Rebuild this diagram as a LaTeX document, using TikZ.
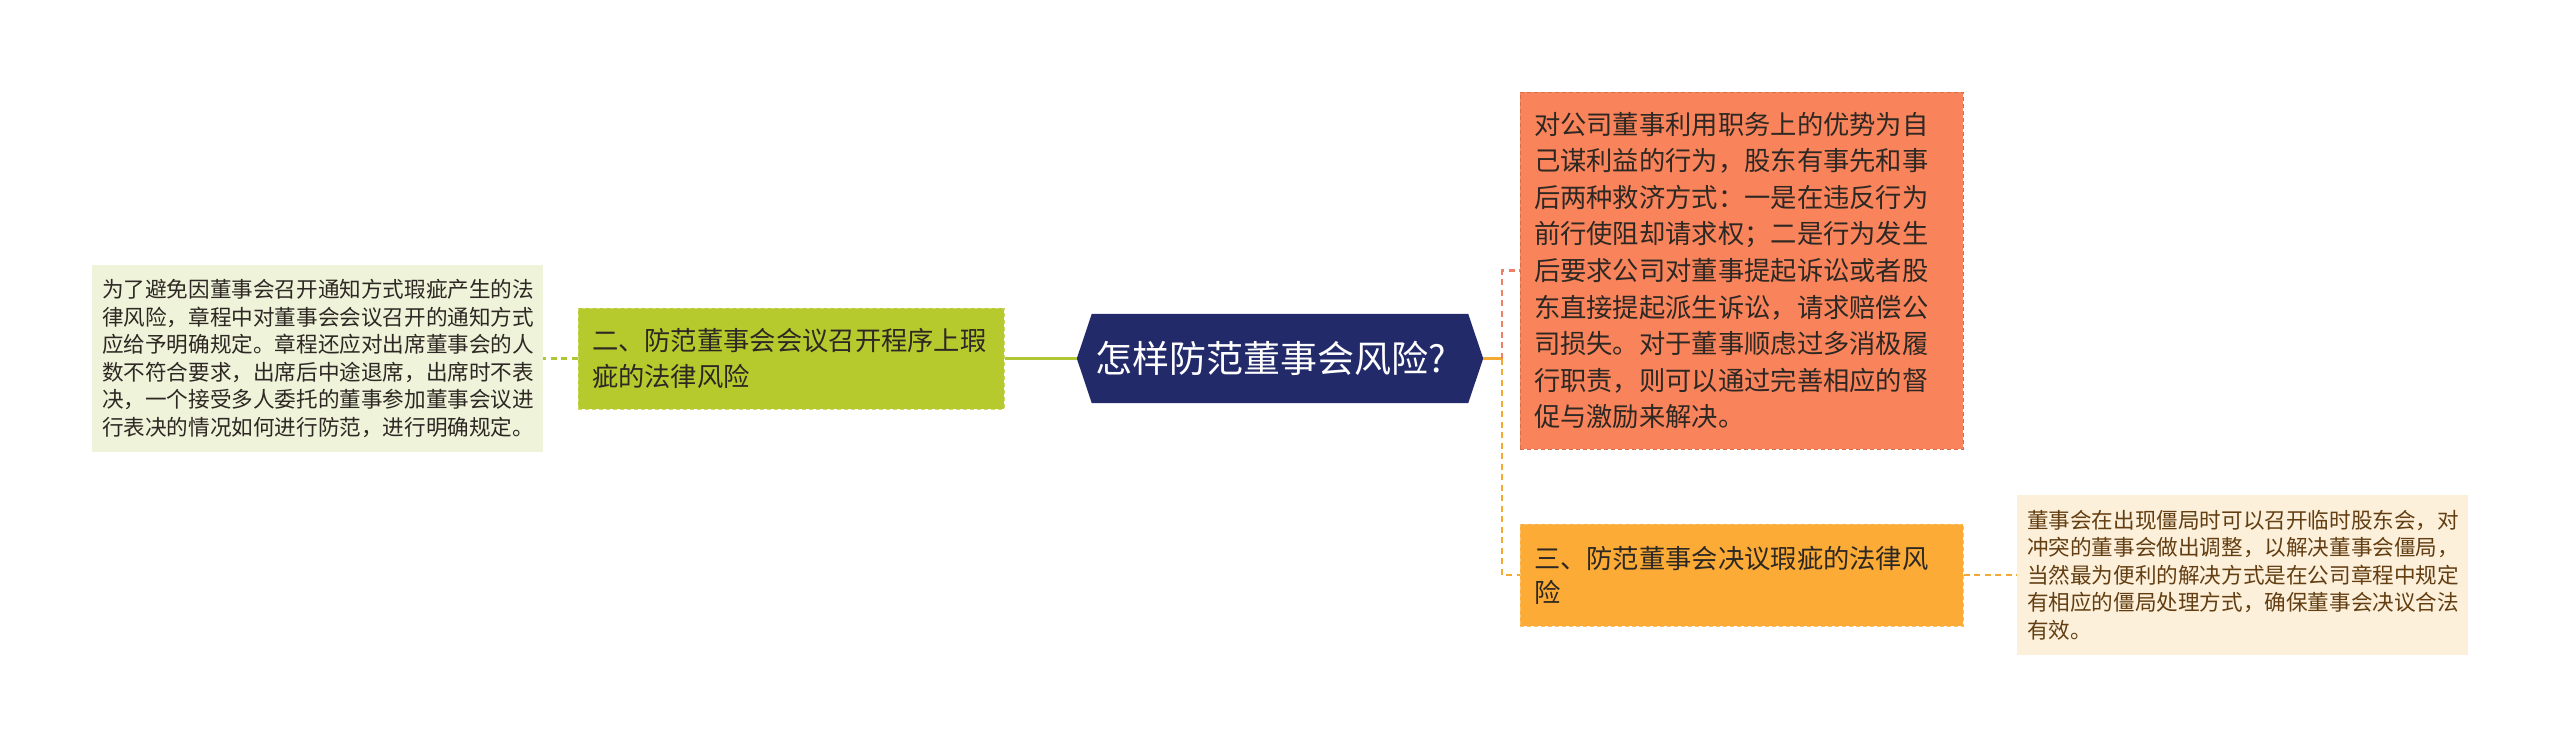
\documentclass[tikz,border=0pt]{standalone}
\usepackage{fontspec}
\newfontfamily\cjk{Noto Sans CJK SC}
\usetikzlibrary{backgrounds,calc}
\definecolor{navy}{RGB}{35,42,106}
\definecolor{greenfill}{RGB}{182,202,46}
\definecolor{greenline}{RGB}{176,198,52}
\definecolor{lightgreen}{RGB}{239,243,218}
\definecolor{salmon}{RGB}{249,131,90}
\definecolor{salmonline}{RGB}{238,128,100}
\definecolor{orangefill}{RGB}{251,171,54}
\definecolor{orangeline}{RGB}{245,168,50}
\definecolor{cream}{RGB}{253,240,218}
\definecolor{darktext}{RGB}{45,40,35}
\definecolor{browntext}{RGB}{98,62,18}
\tikzset{
  box/.style={rectangle, inner ysep=0pt, align=left, anchor=center, font=\cjk},
  bigtext/.style={font=\cjk\fontsize{26.3}{36.6}\selectfont},
  smalltext/.style={font=\cjk\fontsize{21.6}{27.5}\selectfont},
  conn/.style={line width=2.5pt, dash pattern=on 6pt off 4.5pt},
  boxedge/.style={dash pattern=on 4pt off 3pt, line width=1pt},
}
\begin{document}
\begin{tikzpicture}[x=1pt,y=-1pt]
\useasboundingbox (0,0) rectangle (2560,747);
% root
\node[font=\cjk\fontsize{37}{40}\selectfont, text=white, minimum width=406pt, minimum height=89pt, inner sep=0pt] (root) at (1280,358.5) {\kern-18pt 怎样防范董事会风险?};
\begin{scope}[on background layer]
\fill[white] (0,0) rectangle (2560,747);
\fill[navy] ($(root.north west)+(15,0)$) -- ($(root.north east)+(-15,0)$) -- (root.east) -- ($(root.south east)+(-15,0)$) -- ($(root.south west)+(15,0)$) -- (root.west) -- cycle;
\end{scope}
% left side
\node[box, bigtext, fill=greenfill, draw=greenfill!70!white, boxedge, text=darktext,
  minimum width=426pt, minimum height=101pt, text width=398pt, inner xsep=14pt] (green) at (791,358.5)
  {二、防范董事会会议召开程序上瑕\\疵的法律风险};
\node[box, smalltext, fill=lightgreen, text=darktext,
  minimum width=451pt, minimum height=187pt, text width=431pt, inner xsep=10pt] (leftbox) at (317.5,358.5)
  {为了避免因董事会召开通知方式瑕疵产生的法\\律风险，章程中对董事会会议召开的通知方式\\应给予明确规定。章程还应对出席董事会的人\\数不符合要求，出席后中途退席，出席时不表\\决，一个接受多人委托的董事参加董事会议进\\行表决的情况如何进行防范，进行明确规定。};
% right side
\node[box, bigtext, fill=salmon, draw=salmon!85!black, boxedge, text=darktext,
  minimum width=443pt, minimum height=357pt, text width=415pt, inner xsep=14pt] (rbox) at (1741.5,270.5)
  {对公司董事利用职务上的优势为自\\己谋利益的行为，股东有事先和事\\后两种救济方式：一是在违反行为\\前行使阻却请求权；二是行为发生\\后要求公司对董事提起诉讼或者股\\东直接提起派生诉讼，请求赔偿公\\司损失。对于董事顺虑过多消极履\\行职责，则可以通过完善相应的督\\促与激励来解决。};
\node[box, font=\cjk\fontsize{26.3}{34}\selectfont, fill=orangefill, draw=orangefill!75!white, boxedge, text=darktext,
  minimum width=443pt, minimum height=102pt, text width=415pt, inner xsep=14pt] (obox) at (1741.5,575)
  {三、防范董事会决议瑕疵的法律风\\险};
\node[box, smalltext, fill=cream, text=browntext,
  minimum width=451pt, minimum height=160pt, text width=431pt, inner xsep=10pt] (cbox) at (2242.5,575)
  {董事会在出现僵局时可以召开临时股东会，对\\冲突的董事会做出调整，以解决董事会僵局，\\当然最为便利的解决方式是在公司章程中规定\\有相应的僵局处理方式，确保董事会决议合法\\有效。};
% connectors
\coordinate (j) at (1502,358.5);
\draw[greenline, line width=2.5pt] (root.west) -- (green.east);
\draw[greenline, conn] (green.west) -- (leftbox.east);
\draw[orangeline, line width=2.5pt] (root.east) -- (j);
\draw[salmonline, conn] (j) |- (rbox.west);
\draw[orangeline, conn] (j) |- (obox.west);
\draw[orangeline, conn] (obox.east) -- (cbox.west);
\end{tikzpicture}
\end{document}
